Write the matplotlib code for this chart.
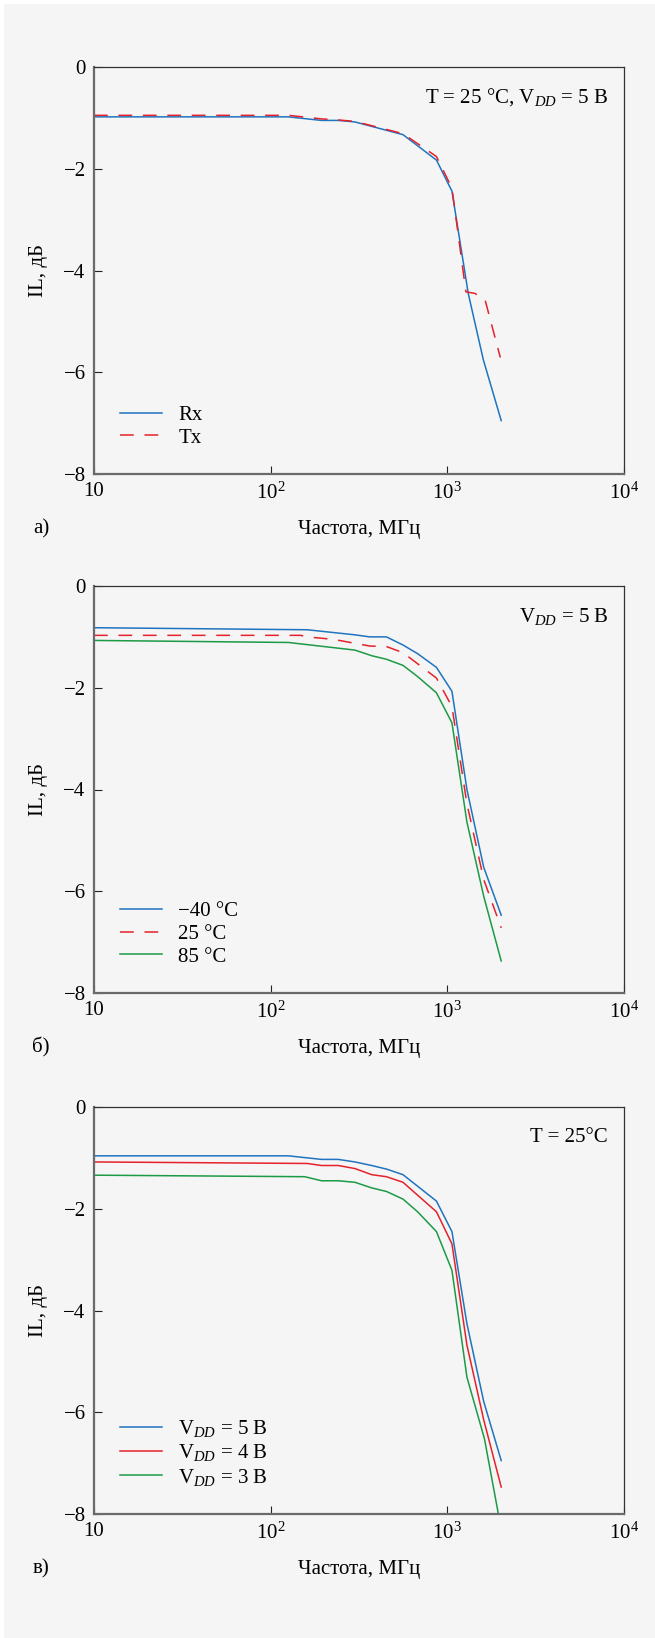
import matplotlib
matplotlib.use("Agg")
import matplotlib.pyplot as plt
from matplotlib.patches import Rectangle

plt.rcParams['font.family'] = ['Liberation Serif', 'DejaVu Serif']
plt.rcParams['font.size'] = 15
plt.rcParams['mathtext.fontset'] = 'custom'
plt.rcParams['mathtext.rm'] = 'Liberation Serif'
plt.rcParams['mathtext.it'] = 'Liberation Serif:italic'

BLUE = '#1f74bf'
RED = '#e5222b'
GREEN = '#1c9a45'
DASH = (0, (9, 7))

# а) Rx / Tx, T = 25 °C, VDD = 5 В
f_rx = [10, 126, 194, 241, 300, 561, 868, 1062, 1313, 1600, 2018]
il_rx = [-0.98, -0.98, -1.05, -1.05, -1.08, -1.33, -1.83, -2.44, -4.45, -5.76, -6.95]
f_tx = [10, 126, 194, 241, 300, 561, 868, 1062, 1274, 1432, 1633, 1995]
il_tx = [-0.95, -0.95, -1.02, -1.04, -1.07, -1.31, -1.76, -2.38, -4.42, -4.45, -4.57, -5.71]

# б) температура, VDD = 5 В
f_m40 = [10, 161, 300, 363, 452, 561, 679, 868, 1062, 1291, 1607, 2018]
il_m40 = [-0.82, -0.86, -0.96, -1.0, -1.0, -1.16, -1.33, -1.6, -2.07, -4.0, -5.53, -6.47]
f_25 = [10, 148, 161, 228, 363, 452, 561, 868, 1062, 1291, 1607, 2018]
il_25 = [-0.97, -0.97, -1.0, -1.05, -1.18, -1.19, -1.31, -1.81, -2.37, -4.28, -5.77, -6.72]
f_85 = [10, 126, 300, 373, 452, 561, 679, 868, 1062, 1291, 1607, 2018]
il_85 = [-1.07, -1.11, -1.26, -1.37, -1.44, -1.56, -1.78, -2.10, -2.69, -4.64, -6.1, -7.37]

# в) напряжение питания, T = 25 °C
f_5v = [10, 126, 194, 241, 300, 373, 452, 561, 868, 1062, 1291, 1607, 2018]
il_5v = [-0.96, -0.96, -1.03, -1.03, -1.08, -1.15, -1.22, -1.33, -1.85, -2.45, -4.26, -5.79, -6.95]
f_4v = [10, 161, 194, 241, 300, 373, 452, 561, 868, 1062, 1291, 1607, 2018]
il_4v = [-1.08, -1.11, -1.15, -1.15, -1.21, -1.33, -1.37, -1.48, -2.06, -2.69, -4.68, -6.15, -7.47]
f_3v = [10, 156, 194, 241, 300, 373, 452, 561, 679, 868, 1062, 1291, 1622, 2018]
il_3v = [-1.34, -1.37, -1.45, -1.45, -1.48, -1.59, -1.66, -1.81, -2.06, -2.45, -3.21, -5.31, -6.52, -8.3]

x_ticks = [10, 100, 1000, 10000]
x_ticklabels = ['10', r'$\mathregular{10^2}$', r'$\mathregular{10^3}$', r'$\mathregular{10^4}$']
y_ticks = [0, -2, -4, -6, -8]

VDD = r'$\mathregular{V}_{\mathit{DD}}$'

W, H = 655, 1638
fig = plt.figure(figsize=(W / 100, H / 100), dpi=100, facecolor='white')
fig.patches.append(Rectangle((4 / W, 0), 1, 1 - 4 / H, transform=fig.transFigure,
                             facecolor='#f5f5f5', edgecolor='none', zorder=-10))


def panel(top_px, series, note, letter):
    left, right, bottom = 94, 624, top_px + 407
    ax = fig.add_axes([left / W, 1 - bottom / H, (right - left) / W, 407 / H])
    ax.set_facecolor('#f5f5f5')
    for f, v, c, ls, lab in series:
        ax.plot(f, v, color=c, lw=1.1, linestyle=ls, label=lab)
    ax.set_xscale('log')
    ax.set_xlim(10, 1e4)
    ax.set_ylim(-8, 0)
    ax.set_xticks(x_ticks, x_ticklabels)
    ax.minorticks_off()
    ax.set_yticks(y_ticks)
    ax.tick_params(direction='in', length=6, width=0.8, color='#222222', pad=6)
    for s in ('left', 'bottom'):
        ax.spines[s].set_color('#6a6a6a')
        ax.spines[s].set_linewidth(1.6)
    for s in ('top', 'right'):
        ax.spines[s].set_color('#333333')
        ax.spines[s].set_linewidth(0.9)
    ax.set_xlabel('Частота, МГц', labelpad=12)
    ax.set_ylabel('IL, дБ', labelpad=11)
    ax.text(0.97, 0.925, note, transform=ax.transAxes, ha='right', va='center')
    ax.text(-0.10, -0.135, letter, transform=ax.transAxes, ha='center', va='center')
    ax.legend(loc='lower left', bbox_to_anchor=(0.049, 0.065), frameon=False,
              borderpad=0, borderaxespad=0, handlelength=2.0, handletextpad=0.8,
              labelspacing=0.15)
    return ax


panel(67, [(f_rx, il_rx, BLUE, '-', 'Rx'), (f_tx, il_tx, RED, DASH, 'Tx')],
      'T = 25 °C, ' + VDD + ' = 5 В', 'а)')
panel(586, [(f_m40, il_m40, BLUE, '-', '−40 °C'), (f_25, il_25, RED, DASH, '25 °C'),
            (f_85, il_85, GREEN, '-', '85 °C')],
      VDD + ' = 5 В', 'б)')
panel(1107, [(f_5v, il_5v, BLUE, '-', VDD + ' = 5 В'), (f_4v, il_4v, RED, '-', VDD + ' = 4 В'),
             (f_3v, il_3v, GREEN, '-', VDD + ' = 3 В')],
      'T = 25°C', 'в)')

fig.savefig('out.png', dpi=100, facecolor=fig.get_facecolor())
